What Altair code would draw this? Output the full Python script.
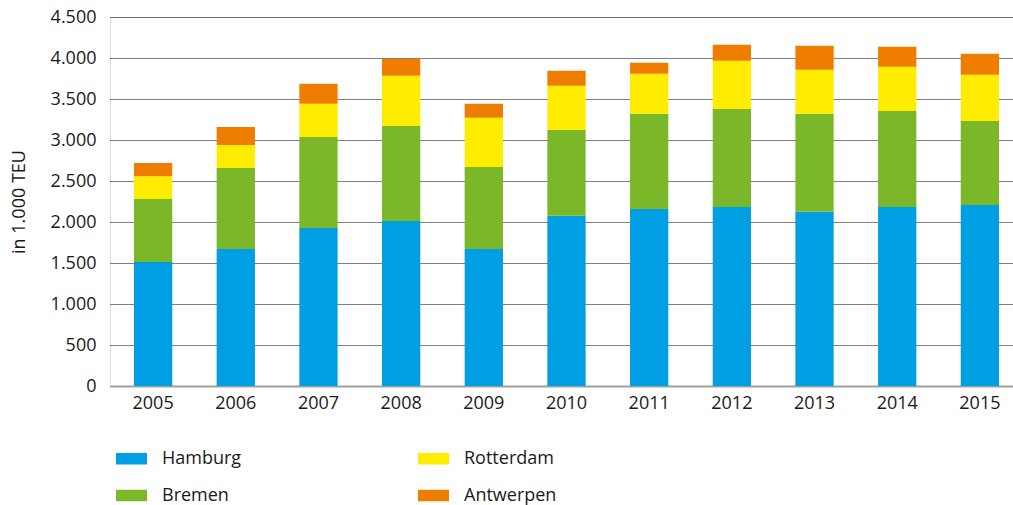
import altair as alt
import pandas as pd

# Container throughput by port, in 1,000 TEU
years = ["2005", "2006", "2007", "2008", "2009", "2010",
         "2011", "2012", "2013", "2014", "2015"]
hamburg = [1511, 1670, 1926, 2012, 1670, 2077, 2158, 2183, 2125, 2183, 2207]
bremen = [769, 989, 1112, 1160, 1001, 1046, 1161, 1196, 1194, 1172, 1026]
rotterdam = [279, 281, 403, 611, 599, 538, 488, 587, 537, 538, 562]
antwerpen = [161, 220, 244, 207, 171, 183, 135, 195, 293, 244, 257]

ports = ["Hamburg", "Bremen", "Rotterdam", "Antwerpen"]
colors = ["#009FE3", "#7AB829", "#FFEC00", "#EF7D00"]
series = [hamburg, bremen, rotterdam, antwerpen]

rows = []
for rank, (port, values) in enumerate(zip(ports, series)):
    for year, v in zip(years, values):
        rows.append({"Jahr": year, "Hafen": port, "TEU": v, "rang": rank})
df = pd.DataFrame(rows)

FONT = "Open Sans"
TEXT = "#1a1a1a"

bar_shape = "M-1,-0.37L1,-0.37L1,0.37L-1,0.37Z"

chart = alt.Chart(df).mark_bar().encode(
    x=alt.X("Jahr:N", sort=years,
            scale=alt.Scale(range=[0, 913], paddingInner=0.537, paddingOuter=0.29),
            axis=alt.Axis(title=None, labelAngle=0, ticks=False, domain=True,
                          domainColor="#a0a0a0", domainWidth=2, labelPadding=8,
                          labelFontSize=18, labelColor=TEXT, labelFont=FONT)),
    y=alt.Y("TEU:Q", stack="zero",
            scale=alt.Scale(domain=[0, 4500], nice=False),
            axis=alt.Axis(title="in 1.000 TEU", values=list(range(0, 4501, 500)),
                          labelExpr="replace(format(datum.value, ','), ',', '.')",
                          domain=False, ticks=False, grid=True,
                          gridColor="#000000", gridDash=[1, 1], gridWidth=1,
                          labelPadding=14, labelFontSize=18, labelColor=TEXT,
                          labelFont=FONT, titleFont=FONT, titleFontSize=18,
                          titleFontWeight="normal", titleColor=TEXT,
                          titlePadding=22)),
    color=alt.Color("Hafen:N",
                    scale=alt.Scale(domain=ports, range=colors),
                    legend=alt.Legend(
                        title=None, orient="none", legendX=6, legendY=426,
                        direction="horizontal", columns=2, gridAlign="all",
                        values=["Hamburg", "Rotterdam", "Bremen", "Antwerpen"],
                        symbolType=bar_shape, symbolSize=961,
                        symbolStrokeWidth=0, symbolOpacity=1,
                        labelFont=FONT, labelFontSize=18, labelColor=TEXT,
                        labelOffset=15, columnPadding=163, rowPadding=12,
                        labelLimit=300)),
    order=alt.Order("rang:Q", sort="ascending"),
).properties(
    width=903,
    height=369,
    autosize=alt.AutoSizeParams(type="none"),
    padding={"left": 110, "top": 17, "right": 0, "bottom": 119},
).configure_view(
    stroke=None
).configure(
    background="white"
)

chart.save("out.html", embed_options={"renderer": "svg", "actions": False})
